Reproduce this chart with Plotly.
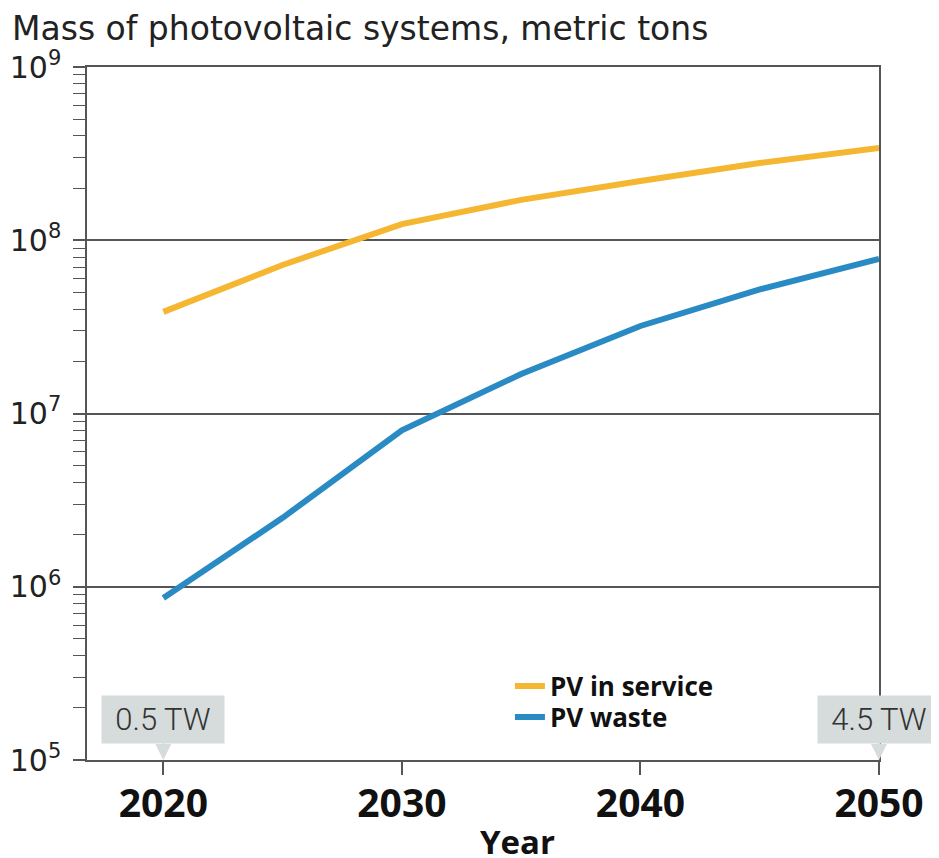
import plotly.graph_objects as go

years = [2020, 2025, 2030, 2035, 2040, 2045, 2050]
pv_service = [3.86e7, 7.2e7, 1.24e8, 1.71e8, 2.2e8, 2.79e8, 3.41e8]
pv_waste = [8.6e5, 2.5e6, 8.0e6, 1.69e7, 3.2e7, 5.2e7, 7.8e7]

y_tickvals = [1e5, 1e6, 1e7, 1e8, 1e9]
y_ticktext = ["10<sup>5</sup>", "10<sup>6</sup>", "10<sup>7</sup>", "10<sup>8</sup>", "10<sup>9</sup>"]
x_tickvals = [2020, 2030, 2040, 2050]
x_ticktext = ["2020", "2030", "2040", "2050"]

capacity_labels = ["0.5 TW", "4.5 TW"]
capacity_years = [2020, 2050]

ORANGE = "#F5B731"
BLUE = "#2A8BC4"
GRID = "#555555"
BOXC = "#D6DBDB"

fig = go.Figure()
fig.add_trace(go.Scatter(x=years, y=pv_service, mode="lines", name="PV in service",
                         line=dict(color=ORANGE, width=6), legend="legend"))
fig.add_trace(go.Scatter(x=years, y=pv_waste, mode="lines", name="PV waste",
                         line=dict(color=BLUE, width=6), legend="legend2"))

for lab, yr in zip(capacity_labels, capacity_years):
    fig.add_annotation(x=yr, y=5, xref="x", yref="y", text=lab,
                       showarrow=True, ax=0, ay=-41, axref="pixel", ayref="pixel",
                       arrowhead=2, arrowsize=1.6, arrowwidth=2, arrowcolor=BOXC,
                       standoff=0, bgcolor=BOXC, width=120, height=45,
                       font=dict(family="Roboto", size=31, color="#333333", weight=300))

fig.add_annotation(x=0.544, y=-0.117, xref="paper", yref="paper", text="<b>Year</b>",
                   showarrow=False, yanchor="middle",
                   font=dict(family="Open Sans", size=33, color="#111111"))

leg_font = dict(family="Open Sans", size=26, color="#111111", weight="bold")
fig.update_layout(
    width=939, height=858,
    margin=dict(l=79, r=68, t=59, b=106, autoexpand=False),
    paper_bgcolor="white", plot_bgcolor="white",
    title=dict(text="Mass of photovoltaic systems, metric tons", x=4/939, xref="container",
               xanchor="left", y=1-20/858, yref="container", yanchor="middle",
               font=dict(family="DejaVu Sans", size=33, color="#222222")),
    showlegend=True,
    legend=dict(x=0.534, y=0.1068, xanchor="left", yanchor="middle", bgcolor="rgba(0,0,0,0)",
                font=leg_font),
    legend2=dict(x=0.534, y=0.062, xanchor="left", yanchor="middle", bgcolor="rgba(0,0,0,0)",
                 font=leg_font),
)

fig.update_xaxes(range=[2016.8, 2050], tickvals=x_tickvals, ticktext=x_ticktext,
                 showgrid=False, zeroline=False, showline=True, linecolor=GRID, linewidth=1.5,
                 mirror=True, ticks="outside", ticklen=13, tickwidth=1.5, tickcolor=GRID,
                 automargin=False, ticklabelstandoff=-5,
                 tickfont=dict(family="Open Sans", size=39, color="#111111", weight="bold"))

fig.update_yaxes(type="log", range=[5, 9], tickvals=y_tickvals, ticktext=y_ticktext,
                 showgrid=True, gridcolor=GRID, gridwidth=1.5, zeroline=False,
                 showline=True, linecolor=GRID, linewidth=1.5, mirror=True,
                 ticks="outside", ticklen=12, tickwidth=1.5, tickcolor=GRID,
                 ticklabelstandoff=6, automargin=False,
                 minor=dict(dtick="D1", ticks="outside", ticklen=12, tickwidth=1.2,
                            tickcolor=GRID, showgrid=False),
                 tickfont=dict(family="DejaVu Sans", size=30, color="#222222"))

fig.write_html("out.html")
